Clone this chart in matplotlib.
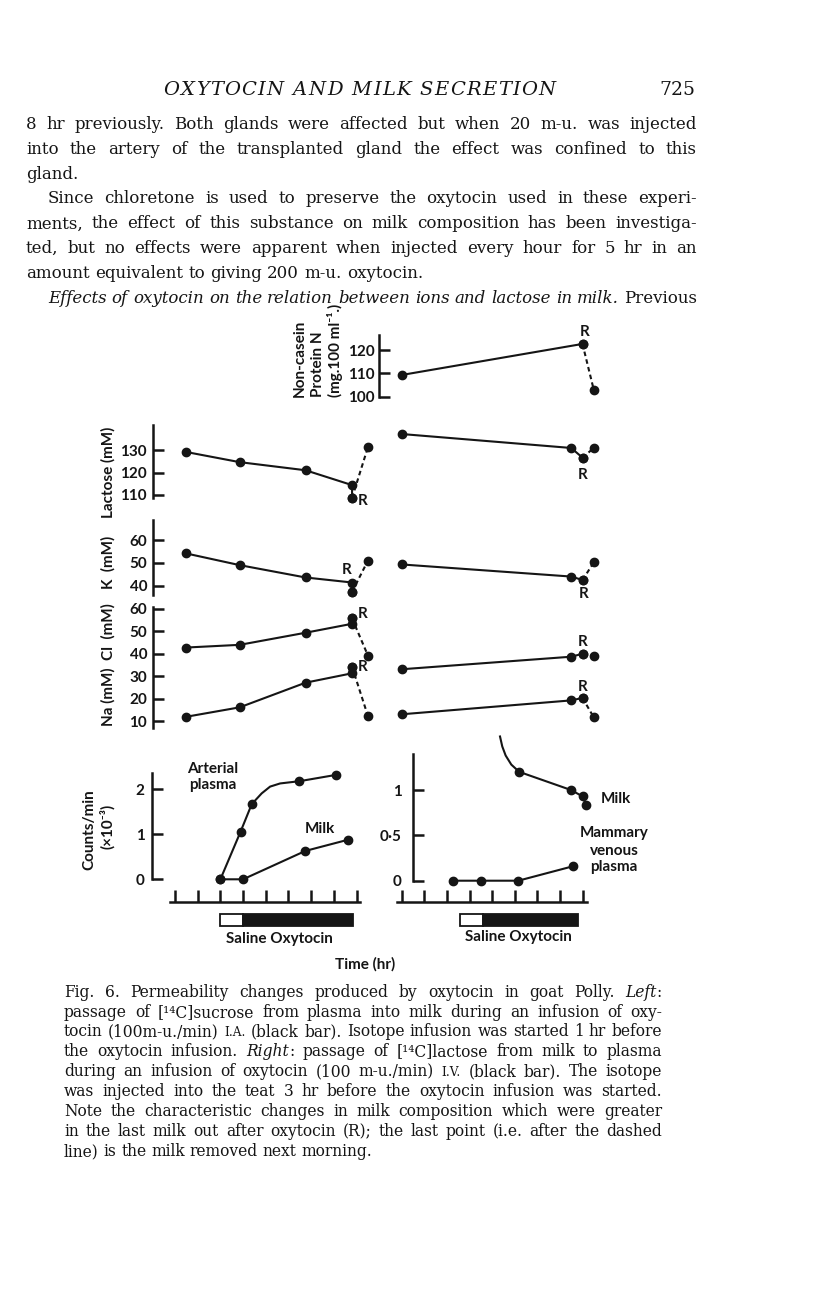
import matplotlib
matplotlib.use("Agg")
import matplotlib.pyplot as plt

# ---------------------------------------------------------------- data
# time is in hours along the time scale (one tick = 1 unit)
# Left experiment: [14C]sucrose, oxytocin i.a. -- milk composition
left_sample_t = [0.5, 2.85, 5.75, 7.8]
left_R_t = 7.8
left_next_t = 8.5
lactose_left = [129.1, 124.6, 121.0, 114.4]
lactose_left_R = 108.7
lactose_left_next = 131.3
k_left = [54.1, 49.0, 43.6, 41.4]
k_left_R = 37.3
k_left_next = 51.0
cl_left = [42.8, 44.0, 49.4, 53.4]
cl_left_R = 55.8
cl_left_next = 39.2
na_left = [11.9, 16.1, 27.1, 31.3]
na_left_R = 34.2
na_left_next = 12.2

# Right experiment: [14C]lactose, oxytocin i.v. -- milk composition
right_sample_t = [0.0, 7.5]
right_R_t = 8.0
right_next_t = 8.5
protein_t = [0.0]
protein_right = [109.3]
protein_right_R = 122.6
protein_right_next = 102.9
lactose_right = [137.1, 130.9]
lactose_right_R = 126.6
lactose_right_next = 130.9
k_right = [49.3, 44.0]
k_right_R = 42.5
k_right_next = 50.2
cl_right = [33.1, 38.7]
cl_right_R = 40.0
cl_right_next = 39.0
na_right = [13.0, 19.2]
na_right_R = 20.3
na_right_next = 11.6

# Counts/min (x10^-3)
art_plasma_t = [2.0, 2.89, 3.38, 3.82, 4.19, 4.63, 5.48, 7.09]
art_plasma = [0.0, 1.06, 1.67, 1.91, 2.06, 2.13, 2.18, 2.32]
art_plasma_marked = [0, 1, 2, 6, 7]
left_milk_t = [2.0, 3.0, 5.74, 7.63]
left_milk = [0.0, 0.0, 0.63, 0.88]
right_milk_t = [4.35, 4.45, 4.6, 4.85, 5.2, 7.49, 8.0, 8.15]
right_milk = [1.59, 1.48, 1.38, 1.28, 1.2, 1.0, 0.93, 0.84]
right_milk_marked = [4, 5, 6, 7]
venous_t = [2.25, 3.5, 5.16, 7.59]
venous = [0.0, 0.0, 0.0, 0.16]

# infusion bars (start of saline, start of oxytocin, end of oxytocin)
left_bar = [2.0, 3.0, 7.84]
right_bar = [2.58, 3.61, 7.81]

lactose_ticks = [110, 120, 130]
k_ticks = [40, 50, 60]
clna_ticks = [10, 20, 30, 40, 50, 60]
protein_ticks = [100, 110, 120]
counts_left_ticks = [0, 1, 2]
counts_right_ticks = [0, 0.5, 1]
counts_right_labels = ["0", "0\u00b75", "1"]
time_ticks = list(range(9))

# ---------------------------------------------------------------- page text
header = "OXYTOCIN AND MILK SECRETION"
page_no = "725"
body_lines = [
    ("8 hr previously. Both glands were affected but when 20 m-u. was injected", False, True),
    ("into the artery of the transplanted gland the effect was confined to this", False, True),
    ("gland.", False, False),
    ("Since chloretone is used to preserve the oxytocin used in these experi-", True, True),
    ("ments, the effect of this substance on milk composition has been investiga-", False, True),
    ("ted, but no effects were apparent when injected every hour for 5 hr in an", False, True),
    ("amount equivalent to giving 200 m-u. oxytocin.", False, False),
    ("*Effects of oxytocin on the relation between ions and lactose in milk.* Previous", True, True),
]
caption_lines = [
    ("Fig. 6. Permeability changes produced by oxytocin in goat Polly. *Left*:", False, True),
    ("passage of [\u00b9\u2074C]sucrose from plasma into milk during an infusion of oxy-", False, True),
    ("tocin (100m-u./min) ~I.A.~ (black bar). Isotope infusion was started 1 hr before", False, True),
    ("the oxytocin infusion. *Right*: passage of [\u00b9\u2074C]lactose from milk to plasma", False, True),
    ("during an infusion of oxytocin (100 m-u./min) ~I.V.~ (black bar). The isotope", False, True),
    ("was injected into the teat 3 hr before the oxytocin infusion was started.", False, True),
    ("Note the characteristic changes in milk composition which were greater", False, True),
    ("in the last milk out after oxytocin (R); the last point (i.e. after the dashed", False, True),
    ("line) is the milk removed next morning.", False, False),
]

# ---------------------------------------------------------------- setup
plt.rcParams["font.family"] = ["Lato", "DejaVu Sans"]
plt.rcParams["font.weight"] = "bold"
INK = "#151515"
SERIF = ["DejaVu Serif", "Liberation Serif"]
W, H = 816, 1296
fig = plt.figure(figsize=(W / 100, H / 100), dpi=100)
fig.patch.set_facecolor("white")
page = fig.add_axes([0, 0, 1, 1])
page.set_xlim(0, W)
page.set_ylim(H, 0)
page.axis("off")
REN = fig.canvas.get_renderer()


def px_axes(l, r, t, b):
    ax = fig.add_axes([l / W, 1 - b / H, (r - l) / W, (b - t) / H])
    ax.patch.set_visible(False)
    return ax


def lin(p, p1, v1, p2, v2):
    return v1 + (p - p1) * (v2 - v1) / (p2 - p1)


LEFT_MAP = (175.0, 22.7)
RIGHT_MAP = (401.7, 22.6)


def set_x(ax, l, r, mapping):
    p0, s = mapping
    ax.set_xlim((l - p0) / s, (r - p0) / s)


def set_y(ax, t, b, ref1, ref2):
    (p1, v1), (p2, v2) = ref1, ref2
    ax.set_ylim(lin(b, p1, v1, p2, v2), lin(t, p1, v1, p2, v2))


def style(ax, ticks=None, labels=None, pad=4.0, left=True):
    for s in ["top", "right", "bottom"]:
        ax.spines[s].set_visible(False)
    ax.spines["left"].set_visible(left)
    ax.spines["left"].set_linewidth(1.8)
    ax.spines["left"].set_color(INK)
    ax.set_xticks([])
    if left and ticks is not None:
        ax.set_yticks(ticks, labels=labels if labels else [str(v) for v in ticks])
        ax.tick_params(axis="y", direction="in", length=8, width=1.8, pad=pad,
                       labelsize=11, colors=INK)
    else:
        ax.set_yticks([])


LW = 1.5
MS = 6


def series(ax, ts, vs, rt, rv, nt, nv, r_off):
    ax.plot(list(ts) + [rt], list(vs) + [rv], "-", color=INK, lw=LW, marker="o",
            ms=MS, clip_on=False)
    ax.plot([rt, nt], [rv, nv], linestyle=(0, (2.2, 1.6)), color=INK, lw=LW,
            marker="o", ms=MS, clip_on=False)
    ax.annotate("R", (rt, rv), xytext=r_off, textcoords="offset pixels",
                ha="center", va="center", fontsize=11, color=INK)


# ---------------------------------------------------------------- composition panels
LX0, LX1 = 152.7, 385
RX0, RX1 = 390, 625

# protein (right only)
ax = px_axes(379, RX1, 335, 397)
set_x(ax, 379, RX1, RIGHT_MAP)
set_y(ax, 335, 397, (350, 120), (396.7, 100))
style(ax, protein_ticks, pad=3)
series(ax, protein_t, protein_right, right_R_t, protein_right_R, right_next_t,
       protein_right_next, (2, 12))

# lactose
ax = px_axes(LX0, LX1, 425, 498)
set_x(ax, LX0, LX1, LEFT_MAP)
set_y(ax, 425, 498, (450, 130), (495, 110))
style(ax, lactose_ticks)
series(ax, left_sample_t, lactose_left, left_R_t, lactose_left_R, left_next_t,
       lactose_left_next, (11, -3))
ax = px_axes(RX0, RX1, 425, 498)
set_x(ax, RX0, RX1, RIGHT_MAP)
set_y(ax, 425, 498, (450, 130), (495, 110))
style(ax, left=False)
series(ax, right_sample_t, lactose_right, right_R_t, lactose_right_R, right_next_t,
       lactose_right_next, (0, -17))

# potassium
ax = px_axes(LX0, LX1, 520, 595)
set_x(ax, LX0, LX1, LEFT_MAP)
set_y(ax, 520, 595, (540, 60), (585.7, 40))
style(ax, k_ticks)
series(ax, left_sample_t, k_left, left_R_t, k_left_R, left_next_t, k_left_next,
       (-5, 22))
ax = px_axes(RX0, RX1, 520, 595)
set_x(ax, RX0, RX1, RIGHT_MAP)
set_y(ax, 520, 595, (540, 60), (585.7, 40))
style(ax, left=False)
series(ax, right_sample_t, k_right, right_R_t, k_right_R, right_next_t, k_right_next,
       (1, -14))

# chloride + sodium (shared scale)
ax = px_axes(LX0, LX1, 607, 728)
set_x(ax, LX0, LX1, LEFT_MAP)
set_y(ax, 607, 728, (609, 60), (721, 10))
style(ax, clna_ticks)
series(ax, left_sample_t, cl_left, left_R_t, cl_left_R, left_next_t, cl_left_next,
       (11, 4))
series(ax, left_sample_t, na_left, left_R_t, na_left_R, left_next_t, na_left_next,
       (11, 0))
ax = px_axes(RX0, RX1, 607, 728)
set_x(ax, RX0, RX1, RIGHT_MAP)
set_y(ax, 607, 728, (609, 60), (721, 10))
style(ax, left=False)
series(ax, right_sample_t, cl_right, right_R_t, cl_right_R, right_next_t, cl_right_next,
       (0, 12))
series(ax, right_sample_t, na_right, right_R_t, na_right_R, right_next_t, na_right_next,
       (0, 10.5))

# ---------------------------------------------------------------- counts panels
ax = px_axes(151.7, 375, 773.3, 879.3)
set_x(ax, 151.7, 375, LEFT_MAP)
set_y(ax, 773.3, 879.3, (789.3, 2), (879.3, 0))
style(ax, counts_left_ticks, pad=5)
ax.plot(art_plasma_t, art_plasma, "-", color=INK, lw=LW, marker="o", ms=MS,
        markevery=art_plasma_marked, clip_on=False)
ax.plot(left_milk_t, left_milk, "-", color=INK, lw=LW, marker="o", ms=MS, clip_on=False)

ax = px_axes(412.7, 640, 754.3, 880.7)
set_x(ax, 412.7, 640, RIGHT_MAP)
set_y(ax, 754.3, 880.7, (790, 1), (880.7, 0))
style(ax, counts_right_ticks, counts_right_labels, pad=8)
ax.plot(right_milk_t, right_milk, "-", color=INK, lw=LW, marker="o", ms=MS,
        markevery=right_milk_marked, clip_on=False)
ax.plot(venous_t, venous, "-", color=INK, lw=LW, marker="o", ms=MS, clip_on=False)


# ---------------------------------------------------------------- time scales + bars
def time_axes(l, r, mapping, line_l, line_r, bar):
    ax = px_axes(l, r, 880, 930)
    set_x(ax, l, r, mapping)
    ax.set_ylim(0, 50)
    for s in ["top", "right", "left"]:
        ax.spines[s].set_visible(False)
    p0, sc = mapping
    sp = ax.spines["bottom"]
    sp.set_position(("data", 930 - 902.3))
    sp.set_bounds((line_l - p0) / sc, (line_r - p0) / sc)
    sp.set_linewidth(1.8)
    sp.set_color(INK)
    ax.set_yticks([])
    ax.set_xticks(time_ticks)
    ax.tick_params(axis="x", direction="in", length=8.5, width=1.8, labelbottom=False,
                   colors=INK)
    s0, s1, s2 = bar
    ax.barh(10.0, s1 - s0, left=s0, height=11.5, color="white", edgecolor=INK, lw=1.3)
    ax.barh(10.0, s2 - s1, left=s1, height=11.5, color=INK, edgecolor=INK, lw=1.3)
    return ax


time_axes(160, 370, LEFT_MAP, 170, 360, left_bar)
time_axes(390, 600, RIGHT_MAP, 396.7, 586.7, right_bar)

# ---------------------------------------------------------------- chart labels
SANS_KW = dict(color=INK, fontsize=11, ha="center", va="center")
page.text(108, 472, "Lactose (mM)", rotation=90, **SANS_KW)
page.text(108, 562, "K  (mM)", rotation=90, **SANS_KW)
page.text(108, 632, "Cl  (mM)", rotation=90, **SANS_KW)
page.text(108, 697, "Na (mM)", rotation=90, **SANS_KW)
for x, s in [(300, "Non-casein"), (318, "Protein N"), (335, "(mg.100 ml\u207b\u00b9.)")]:
    page.text(x, 397, s, rotation=90, color=INK, fontsize=11, ha="center", va="bottom")
page.text(89, 830, "Counts/min", rotation=90, **SANS_KW)
page.text(107, 826, "(\u00d710\u207b\u00b3)", rotation=90, **SANS_KW)
page.text(213, 769, "Arterial", **SANS_KW)
page.text(213, 785, "plasma", **SANS_KW)
page.text(320, 829, "Milk", **SANS_KW)
page.text(616, 799, "Milk", **SANS_KW)
page.text(614, 833, "Mammary", **SANS_KW)
page.text(614, 851, "venous", **SANS_KW)
page.text(614, 867, "plasma", **SANS_KW)
page.text(279, 939, "Saline Oxytocin", **SANS_KW)
page.text(518, 937, "Saline Oxytocin", **SANS_KW)
page.text(365, 964, "Time (hr)", **SANS_KW)


# ---------------------------------------------------------------- serif page text
def parse(line):
    words, cur, buf = [], [], [""]
    state = {"i": False, "sc": False}

    def flush():
        if buf[0]:
            cur.append((buf[0], state["i"], state["sc"]))
            buf[0] = ""

    for ch in line:
        if ch == "*":
            flush()
            state["i"] = not state["i"]
        elif ch == "~":
            flush()
            state["sc"] = not state["sc"]
        elif ch == " ":
            flush()
            if cur:
                words.append(list(cur))
                cur.clear()
        else:
            buf[0] += ch
    flush()
    if cur:
        words.append(list(cur))
    return words


def width_of(t):
    return t.get_window_extent(renderer=REN).width


def space_width(size):
    a = page.text(0, 0, "x x", fontsize=size, family=SERIF, weight="normal")
    b = page.text(0, 0, "xx", fontsize=size, family=SERIF, weight="normal")
    w = width_of(a) - width_of(b)
    a.remove()
    b.remove()
    return w


def make_words(line, size, yb):
    objs, widths = [], []
    for w in parse(line):
        segs, tot = [], 0.0
        for s, it, sc in w:
            t = page.text(0, yb, s, fontsize=size * (0.78 if sc else 1.0),
                          style="italic" if it else "normal", family=SERIF,
                          weight="normal", color=INK, va="baseline", ha="left")
            ww = width_of(t)
            segs.append((t, ww))
            tot += ww
        objs.append(segs)
        widths.append(tot)
    return objs, widths


def fit_size(lines, x0, x1, indent, size, min_gap=0.95):
    """Largest common size (<= size) so every justified line fits with a decent gap."""
    sp = space_width(size)
    best = size
    for ln, ind, just in lines:
        if not just:
            continue
        objs, widths = make_words(ln, size, 0)
        nat = sum(widths) + (len(widths) - 1) * sp * min_gap
        for segs in objs:
            for t, _ in segs:
                t.remove()
        avail = x1 - (x0 + (indent if ind else 0))
        if nat > avail:
            best = min(best, size * avail / nat)
    return best


def draw_line(line, x0, x1, yb, size, justify):
    objs, widths = make_words(line, size, yb)
    gap = space_width(size)
    if justify and len(widths) > 1:
        gap = (x1 - x0 - sum(widths)) / (len(widths) - 1)
    x = x0
    for segs, tot in zip(objs, widths):
        xx = x
        for t, ww in segs:
            t.set_x(xx)
            xx += ww
        x += tot + gap


# header with letter spacing
HS = 14.0
chars = []
for ch in header:
    t = page.text(0, 95, ch, fontsize=HS, style="italic", family=SERIF, weight="normal",
                  color=INK, va="baseline", ha="left")
    chars.append((t, width_of(t) if ch != " " else space_width(HS)))
hx0, hx1 = 163, 556
extra = (hx1 - hx0 - sum(w for _, w in chars)) / (len(chars) - 1)
x = hx0
for t, w in chars:
    t.set_x(x)
    x += w + extra
page.text(695, 95, page_no, fontsize=13.5, family=SERIF, weight="normal", color=INK,
          va="baseline", ha="right")

BX0, BX1 = 26, 697
body_size = fit_size(body_lines, BX0, BX1, 22, 13.8)
for i, (ln, indent, just) in enumerate(body_lines):
    yb = 122.7 + 24.86 * i + 6.2
    draw_line(ln, BX0 + (22 if indent else 0), BX1, yb, body_size, just)

CX0, CX1 = 64, 662
cap_size = fit_size(caption_lines, CX0, CX1, 0, 11.6)
for i, (ln, indent, just) in enumerate(caption_lines):
    yb = 991.7 + 19.9 * i + 5.0
    draw_line(ln, CX0, CX1, yb, cap_size, just)

fig.savefig("out.png", dpi=100, facecolor="white")
